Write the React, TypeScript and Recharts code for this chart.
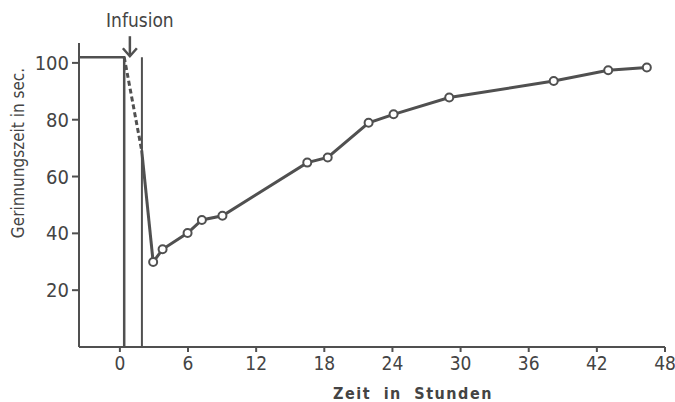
import { ComposedChart, Line, XAxis, YAxis, ReferenceLine, ReferenceDot, Label } from 'recharts'

// measured clotting time after the infusion
const hours = [2.93, 3.76, 5.96, 7.22, 9.03, 16.5, 18.3, 21.9, 24.1, 29.0, 38.2, 43.0, 46.4]
const clotTime = [29.9, 34.4, 40.1, 44.7, 46.2, 64.9, 66.7, 78.9, 81.9, 87.8, 93.6, 97.4, 98.4]

// level before the infusion, dashed drop, and the solid bit down to the first reading
const baselineHours = [-3.6, 0.38, 0.38]
const baselineTime = [102, 102, 0]
const dropHours = [0.38, 1.92]
const dropTime = [102, 69.2]
const connectHours = [1.92, 2.93]
const connectTime = [69.2, 29.9]

const infusionStart = 0.88
const infusionEnd = 1.94
const infusionTop = 102

const xTicks = [0, 6, 12, 18, 24, 30, 36, 42, 48]
const yTicks = [20, 40, 60, 80, 100]

const ink = '#505050'
const font = "'DejaVu Sans Condensed', 'Liberation Sans Narrow', sans-serif"

const zip = (xs: number[], ys: number[]) => xs.map((x, i) => ({ x, y: ys[i] }))

const measured = zip(hours, clotTime)
const baseline = zip(baselineHours, baselineTime)
const drop = zip(dropHours, dropTime)
const connect = zip(connectHours, connectTime)

function InfusionArrow(props: { cx?: number; cy?: number }) {
    const { cx = 0, cy = 0 } = props
    return (
        <g>
            <line x1={cx} y1={cy - 21} x2={cx} y2={cy - 1} stroke={ink} strokeWidth={2.5} />
            <path d={`M${cx - 7},${cy - 9} L${cx},${cy - 1} L${cx + 7},${cy - 9}`} fill="none" stroke={ink} strokeWidth={2.5} />
            <text x={cx + 10} y={cy - 30} textAnchor="middle" fontFamily={font} fontSize={19} fill="#444">
                Infusion
            </text>
        </g>
    )
}

function YTitle() {
    return (
        <text x={18} y={153} transform="rotate(-90 18 153)" textAnchor="middle" dy="0.35em"
            fontFamily={font} fontSize={17} fill="#444">
            Gerinnungszeit in sec.
        </text>
    )
}

function XTitle() {
    return (
        <text x={413} y={399} textAnchor="middle" fontFamily={font} fontSize={16} fontWeight="bold"
            letterSpacing={1.5} wordSpacing={6} fill="#444">
            Zeit in Stunden
        </text>
    )
}

export default function App() {
    return (
        <div style={{ position: 'absolute', left: 0, top: 0, width: 675, height: 402, background: '#fff' }}>
            <ComposedChart width={675} height={402} margin={{ top: 43, right: 10, left: 0, bottom: 25 }}>
                <XAxis
                    type="number"
                    dataKey="x"
                    domain={[-3.6, 48]}
                    ticks={xTicks}
                    allowDataOverflow
                    height={30}
                    stroke={ink}
                    strokeWidth={2}
                    tickSize={5}
                    tickMargin={5}
                    tick={{ fontFamily: font, fontSize: 19, fill: '#444' }}
                >
                    <Label content={<XTitle />} />
                </XAxis>
                <YAxis
                    type="number"
                    dataKey="y"
                    domain={[0, 107]}
                    ticks={yTicks}
                    allowDataOverflow
                    width={79}
                    stroke={ink}
                    strokeWidth={2}
                    tickSize={7}
                    tickMargin={3}
                    tick={{ fontFamily: font, fontSize: 20, fill: '#444' }}
                >
                    <Label content={<YTitle />} />
                </YAxis>
                <ReferenceLine
                    segment={[{ x: infusionEnd, y: 0 }, { x: infusionEnd, y: infusionTop }]}
                    stroke={ink}
                    strokeWidth={2}
                />
                <Line data={baseline} dataKey="y" type="linear" stroke={ink} strokeWidth={2.5} dot={false} isAnimationActive={false} />
                <Line data={drop} dataKey="y" type="linear" stroke={ink} strokeWidth={3} strokeDasharray="5 3" dot={false} isAnimationActive={false} />
                <Line data={connect} dataKey="y" type="linear" stroke={ink} strokeWidth={3} dot={false} isAnimationActive={false} />
                <Line
                    data={measured}
                    dataKey="y"
                    type="linear"
                    stroke={ink}
                    strokeWidth={3}
                    dot={{ r: 4, fill: '#fff', stroke: ink, strokeWidth: 2 }}
                    isAnimationActive={false}
                />
                <ReferenceDot x={infusionStart} y={infusionTop} ifOverflow="visible" shape={<InfusionArrow />} />
            </ComposedChart>
        </div>
    )
}
